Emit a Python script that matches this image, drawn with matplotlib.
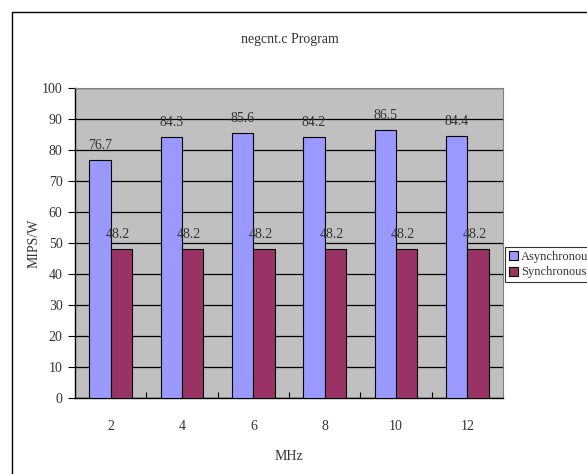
import matplotlib
matplotlib.use("Agg")
import matplotlib.pyplot as plt
from matplotlib.patches import Rectangle
import numpy as np

categories = ["2", "4", "6", "8", "10", "12"]
asynchronous = [76.7, 84.3, 85.6, 84.2, 86.5, 84.4]
synchronous = [48.2, 48.2, 48.2, 48.2, 48.2, 48.2]
series_names = ["Asynchronous", "Synchronous"]

plt.rcParams["font.family"] = ["Liberation Serif", "DejaVu Serif"]
FS = 10
TXT = "#333333"

fig = plt.figure(figsize=(5.87, 4.74), dpi=100)
fig.patch.set_facecolor("white")

# outer chart frame (extends past the right and bottom edges)
fig.patches.append(Rectangle((12 / 587, -0.1), 1.2, 0.1 + 1 - 12 / 474,
                             transform=fig.transFigure, fill=False,
                             edgecolor="black", linewidth=1.0, clip_on=False))

ax = fig.add_axes([75 / 587, 1 - 398 / 474, 428 / 587, 310 / 474])
ax.set_facecolor("#C0C0C0")

x = np.arange(len(categories))
w = 0.3
b1 = ax.bar(x - w / 2, asynchronous, w, color="#9999FF", edgecolor="black",
            linewidth=0.8, label=series_names[0], zorder=3)
b2 = ax.bar(x + w / 2, synchronous, w, color="#993366", edgecolor="black",
            linewidth=0.8, label=series_names[1], zorder=3)

for xi, v in zip(x, asynchronous):
    ax.text(xi - w / 2, v + 2.6, f"{v}", ha="center", va="bottom",
            fontsize=FS, color=TXT, zorder=4)
for xi, v in zip(x, synchronous):
    ax.text(xi + w / 2 - 0.05, v + 2.6, f"{v}", ha="center", va="bottom",
            fontsize=FS, color=TXT, zorder=4)

ax.set_xlim(-0.5, len(categories) - 0.5)
ax.set_ylim(0, 100)
ax.set_yticks(np.arange(0, 101, 10))
ax.yaxis.grid(True, color="black", linewidth=0.9, zorder=1)
ax.set_axisbelow(True)

ax.set_xticks(x)
ax.set_xticklabels(categories, fontsize=FS, color=TXT)
ax.tick_params(axis="x", length=0, pad=16)
ax.set_xticks(np.arange(0.5, len(categories) - 0.5, 1), minor=True)
ax.tick_params(axis="x", which="minor", direction="in", length=4, width=0.8)
ax.tick_params(axis="y", direction="out", length=5, width=0.8,
               labelsize=FS, labelcolor=TXT, pad=4)

for side in ["top", "right"]:
    ax.spines[side].set_color("#808080")
    ax.spines[side].set_linewidth(0.8)
for side in ["left", "bottom"]:
    ax.spines[side].set_color("black")
    ax.spines[side].set_linewidth(1.0)

ax.set_xlabel("MHz", fontsize=FS, color=TXT, labelpad=12)
ax.set_ylabel("MIPS/W", fontsize=FS, color=TXT)
ax.yaxis.set_label_coords((41 - 75) / 428, 0.5)
fig.text(290 / 587, 1 - 40 / 474, "negcnt.c Program", ha="center",
         va="center", fontsize=FS, color=TXT)

leg = fig.legend(handles=[b1, b2], loc="upper left",
                 bbox_to_anchor=(505 / 587, 1 - 247 / 474),
                 frameon=True, fancybox=False, edgecolor="black",
                 fontsize=9, handlelength=0.7, handleheight=0.7,
                 handletextpad=0.3, borderpad=0.3, labelspacing=0.3,
                 borderaxespad=0)
leg.get_frame().set_linewidth(0.8)
for t in leg.get_texts():
    t.set_color(TXT)

fig.savefig("out.png", dpi=100)
